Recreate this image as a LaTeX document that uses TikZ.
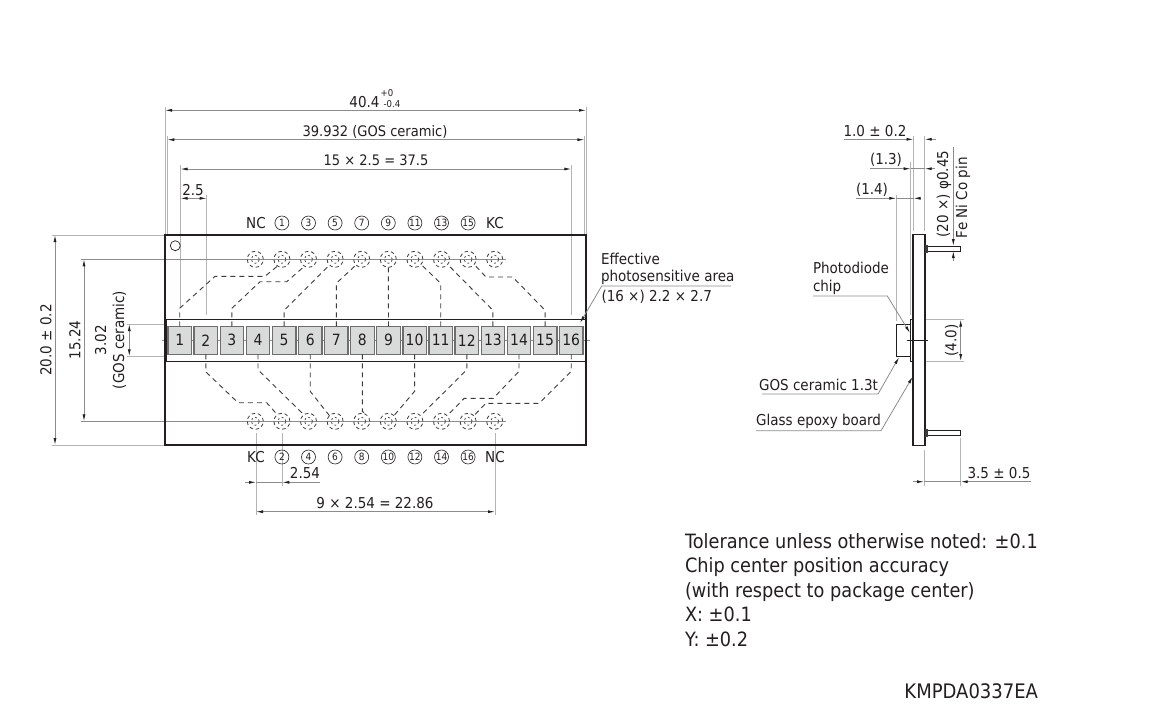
\documentclass[tikz,border=0pt]{standalone}
\usepackage{fontspec}
\setmainfont[FakeStretch=0.9]{DejaVu Sans}
\usetikzlibrary{arrows.meta}
\definecolor{ink}{HTML}{231F20}
\definecolor{dimc}{HTML}{8C8C8C}
\definecolor{extc}{HTML}{B4B4B4}
\definecolor{cellf}{HTML}{D9DADA}
\definecolor{celld}{HTML}{6E6E6E}
\definecolor{wirec}{HTML}{3C3C3C}
\tikzset{
 every node/.style={text=ink,inner sep=0pt,outer sep=0pt},
 lab/.style={font=\fontsize{15}{18}\selectfont},
 labn/.style={font=\fontsize{14.5}{18}\selectfont},
 big/.style={font=\fontsize{19.7}{24.5}\selectfont,align=left,anchor=north west},
 num/.style={circle,draw=ink,line width=.6pt,minimum size=14pt,font=\fontsize{10}{10}\selectfont},
 cellbox/.style={draw=celld,fill=cellf,line width=1.3pt,minimum width=23.5pt,minimum height=28pt,font=\fontsize{15.5}{15.5}\selectfont},
 pinc/.style={circle,draw=wirec,dash pattern=on 3.5pt off 2.8pt,line width=.8pt,minimum size=16pt},
 pinin/.style={circle,draw=wirec,dash pattern=on 2pt off 2.4pt,line width=.7pt,minimum size=8pt},
 wire/.style={draw=wirec,line width=.9pt,dash pattern=on 5pt off 4pt},
 dimline/.style={draw=dimc,line width=.8pt},
 ext/.style={draw=extc,line width=.9pt},
 center/.style={draw=dimc,line width=.8pt},
 tip/.style={-{Latex[length=7pt,width=3pt,color=ink]}},
 tips/.style={{Latex[length=7pt,width=3pt,color=ink]}-{Latex[length=7pt,width=3pt,color=ink]}},
 body/.style={draw=ink,line width=2pt},
 thin/.style={draw=ink,line width=.9pt},
}
\newcommand{\hdimen}[4]{\coordinate (#1a) at (#2,#4);\coordinate (#1b) at (#3,#4);\draw[dimline,tips] (#1a) -- (#1b);}
\newcommand{\vdimen}[4]{\coordinate (#1a) at (#4,#2);\coordinate (#1b) at (#4,#3);\draw[dimline,tips] (#1a) -- (#1b);}
\newcommand{\extline}[5]{\coordinate (#1a) at (#2,#3);\coordinate (#1b) at (#4,#5);\draw[ext] (#1a) -- (#1b);}
\begin{document}
\begin{tikzpicture}[x=1pt,y=-1pt]
\useasboundingbox (0,0) rectangle (1162,721);
\fill[white] (0,0) rectangle (1162,721);

% extension lines
\extline{ea}{165}{107}{165}{235}
\extline{eb}{586}{107}{586}{235}
\extline{ec}{167.3}{136}{167.3}{235}
\extline{ed}{584.4}{136}{584.4}{235}
\extline{ee}{180.5}{165}{180.5}{308}
\extline{ef}{571.3}{165}{571.3}{315}
\extline{eg}{206.7}{195}{206.7}{315}
\extline{eh}{52}{235}{165}{235}
\extline{ei}{52}{445}{165}{445}
\extline{ej}{127}{324}{166}{324}
\extline{ek}{127}{356.3}{166}{356.3}
\extline{el}{256}{433}{256}{515}
\extline{em}{282.3}{433}{282.3}{486}
\extline{en}{495}{433}{495}{515}

% centre lines
\coordinate (clTa) at (80.7,259.3); \coordinate (clTb) at (506,259.3);
\coordinate (clBa) at (80.7,421.3); \coordinate (clBb) at (506,421.3);
\coordinate (clMa) at (162,340.3); \coordinate (clMb) at (590,340.3);
\draw[center] (clTa) -- (clTb);
\draw[center] (clBa) -- (clBb);
\draw[center] (clMa) -- (clMb);

% package
\node[draw=ink,line width=2pt,minimum width=421pt,minimum height=210pt,anchor=north west] (pkg) at (165,235) {};
\node[circle,draw=ink,line width=.7pt,minimum size=10pt] (mark) at (175.3,245.7) {};
\node[draw=ink,line width=1pt,minimum width=419pt,minimum height=41.5pt,anchor=north west] (cer) at (166,319.5) {};

% cells
\foreach \i in {1,...,16}{
 \pgfmathsetmacro{\cx}{179.7+26.1*(\i-1)}
 \node[cellbox] (c\i) at (\cx,340.3) {\i};
}

% pins
\foreach \i in {0,...,9}{
 \pgfmathsetmacro{\px}{255.3+26.6*\i}
 \node[pinc] (t\i) at (\px,259.3) {};
 \node[pinin] (ti\i) at (\px,259.3) {};
 \node[pinc] (b\i) at (\px,421.3) {};
 \node[pinin] (bi\i) at (\px,421.3) {};
}

% pin labels
\node[lab] (ltnc) at (256,223) {NC};
\node[lab] (ltkc) at (495,223) {KC};
\node[lab] (lbkc) at (256,457) {KC};
\node[lab] (lbnc) at (495,457) {NC};
\foreach \i/\n in {1/1,2/3,3/5,4/7,5/9,6/11,7/13,8/15}{
 \pgfmathsetmacro{\px}{255.3+26.6*\i}
 \node[num] (ln\n) at (\px,223) {\n};
}
\foreach \i/\n in {1/2,2/4,3/6,4/8,5/10,6/12,7/14,8/16}{
 \pgfmathsetmacro{\px}{255.3+26.6*\i}
 \node[num] (ln\n) at (\px,457) {\n};
}

% wires top
\draw[wire] (c1.north) -- ++(0,-18) -- (215,276.3) -- (265,276.3) -- (t1.237);
\draw[wire] (c3.north) -- ++(0,-18) -- (260,281.7) -- (286.7,281.7) -- (t2.240);
\draw[wire] (c5.north) -- ++(0,-16) -- (t3.225);
\draw[wire] (c7.north) -- ++(0,-43) -- (t4.225);
\draw[wire] (c9.north) -- (t5.south);
\draw[wire] (c11.north) -- ++(0,-43) -- (t6.320);
\draw[wire] (c13.north) -- ++(0,-16) -- (t7.320);
\draw[wire] (c15.north) -- ++(0,-16) -- (512.7,277) -- (486,277) -- (t8.320);
% wires bottom
\draw[wire] (c2.south) -- ++(0,17.5) -- (238,402.7) -- (266.7,402.7) -- (b1.125);
\draw[wire] (c4.south) -- ++(0,15.5) -- (b2.125);
\draw[wire] (c6.south) -- ++(0,37) -- (b3.135);
\draw[wire] (c8.south) -- ++(0,57) -- (b4.60);
\draw[wire] (c10.south) -- ++(0,37) -- (b5.45);
\draw[wire] (c12.south) -- ++(0,15.5) -- (b6.45);
\draw[wire] (c14.south) -- ++(0,17) -- (493.3,398.3) -- (464.3,398.3) -- (b7.45);
\draw[wire] (c16.south) -- ++(0,17) -- (539.3,403.3) -- (486,403.3) -- (b8.45);

% horizontal dimensions
\hdimen{da}{165}{586}{110.3}
\hdimen{db}{167.3}{584.4}{139.7}
\hdimen{dc}{180.5}{571.3}{169}
\hdimen{dd}{180.5}{206.7}{198.3}
\hdimen{de}{256}{495}{511.7}
\coordinate (dfa) at (245,482.3); \coordinate (dfb) at (256,482.3);
\coordinate (dfc) at (282.3,482.3); \coordinate (dfd) at (320,482.3);
\draw[dimline,tip] (dfa) -- (dfb);
\draw[dimline,tip] (dfd) -- (dfc);
\draw[dimline] (dfb) -- (dfc);

% vertical dimensions
\vdimen{va}{235}{445}{55}
\vdimen{vb}{259.3}{421.3}{84}
\vdimen{vc}{324}{356.3}{129.3}

% dimension labels
\node[lab] (t404) at (364.5,102) {40.4};
\node[font=\fontsize{9.5}{10}\selectfont] (tp) at (387,93) {+0};
\node[font=\fontsize{9.5}{10}\selectfont] (tm) at (392,104) {-0.4};
\node[labn] (t39) at (375,131.5) {39.932 (GOS ceramic)};
\node[labn] (t15) at (376,160.5) {15 × 2.5 = 37.5};
\node[lab] (t25) at (193,190) {2.5};
\node[lab] (t254) at (305,473) {2.54};
\node[lab] (t9) at (375,503) {9 × 2.54 = 22.86};
\node[lab,rotate=90] (t20) at (46,340) {20.0 ± 0.2};
\node[lab,rotate=90] (t1524) at (75,340) {15.24};
\node[lab,rotate=90] (t302) at (100.7,340) {3.02};
\node[lab,rotate=90] (tgos) at (119.5,340) {(GOS ceramic)};

% effective area
\node[lab,anchor=west] (eff1) at (601,258.5) {Effective};
\node[lab,anchor=west] (eff2) at (601,277.5) {photosensitive area};
\node[lab,anchor=west] (eff3) at (601.5,297) {(16 ×) 2.2 × 2.7};
\coordinate (effa) at (731,286);
\coordinate (effb) at (601.7,286);
\coordinate (effc) at (580,323);
\draw[dimline,tip] (effa) -- (effb) -- (effc);

% side view
\extline{sa}{913.5}{136}{913.5}{231}
\extline{sb}{924.7}{136}{924.7}{231}
\extline{sc}{910.7}{162}{910.7}{315}
\extline{sd}{896.3}{195}{896.3}{321}
\extline{se}{925}{319.3}{964}{319.3}
\extline{sf}{925}{361.3}{964}{361.3}
\extline{sg}{924}{450}{924}{486}
\extline{sh}{960.7}{438}{960.7}{486}
\node[draw=ink,line width=1.8pt,minimum width=11.5pt,minimum height=211pt,anchor=north west] (board) at (913.3,234.5) {};
\node[draw=ink,line width=.8pt,minimum width=3.4pt,minimum height=42pt,anchor=north west] (chip) at (910,319.3) {};
\node[draw=ink,line width=.8pt,minimum width=13.3pt,minimum height=32.3pt,anchor=north west] (gos) at (896.7,324) {};
\node[draw=ink,line width=.7pt,minimum width=33.7pt,minimum height=5pt,anchor=west,fill=white] (pin1) at (927,248.5) {};
\node[draw=ink,line width=.7pt,minimum width=33.7pt,minimum height=5pt,anchor=west,fill=white] (pin2) at (927,432.5) {};
\node[fill=wirec,minimum width=2.5pt,minimum height=8pt,anchor=west] (head1) at (925,248.5) {};
\node[fill=wirec,minimum width=2.5pt,minimum height=8pt,anchor=west] (head2) at (925,432.5) {};
\coordinate (sca) at (906.7,340.3); \coordinate (scb) at (927.7,340.3);
\draw[thin] (sca) -- (scb);

% side dims
\coordinate (p1a) at (844,139.3); \coordinate (p1b) at (913.5,139.3);
\coordinate (p1c) at (924.7,139.3); \coordinate (p1d) at (935.7,139.3);
\draw[dimline,tip] (p1a) -- (p1b); \draw[dimline,tip] (p1d) -- (p1c);
\coordinate (p2a) at (870,168.7); \coordinate (p2b) at (910.7,168.7);
\coordinate (p2c) at (924.7,168.7); \coordinate (p2d) at (935,168.7);
\draw[dimline,tip] (p2a) -- (p2b); \draw[dimline,tip] (p2d) -- (p2c);
\draw[dimline] (p2b) -- (p2c);
\coordinate (p3a) at (856,198.3); \coordinate (p3b) at (896.3,198.3);
\coordinate (p3c) at (913.5,198.3); \coordinate (p3d) at (920.7,198.3);
\draw[dimline,tip] (p3a) -- (p3b); \draw[dimline,tip] (p3d) -- (p3c);
\draw[dimline] (p3b) -- (p3c);
\coordinate (p4a) at (953.3,147); \coordinate (p4b) at (953.3,246);
\coordinate (p4c) at (953.3,251); \coordinate (p4d) at (953.3,261);
\draw[dimline,tip] (p4a) -- (p4b); \draw[dimline,tip] (p4d) -- (p4c);
\vdimen{p5}{319.5}{361}{960.7}
\coordinate (p6a) at (913,481.7); \coordinate (p6b) at (924,481.7);
\coordinate (p6c) at (960.7,481.7); \coordinate (p6d) at (1031,481.7);
\draw[dimline,tip] (p6a) -- (p6b); \draw[dimline,tip] (p6d) -- (p6c);
\draw[dimline] (p6b) -- (p6c);

\node[lab] (s1) at (875,131) {1.0 ± 0.2};
\node[lab] (s2) at (886,160) {(1.3)};
\node[lab] (s3) at (872,190) {(1.4)};
\node[lab,rotate=90] (s4) at (944,194) {(20 ×) φ0.45};
\node[lab,rotate=90,anchor=west] (s5) at (963,238) {Fe Ni Co pin};
\node[lab,rotate=90] (s6) at (951.7,340.3) {(4.0)};
\node[lab] (s7) at (999,473) {3.5 ± 0.5};

% side leaders
\node[lab,anchor=west] (n1) at (813,268) {Photodiode};
\node[lab,anchor=west] (n2) at (813,287) {chip};
\coordinate (l1a) at (813,296); \coordinate (l1b) at (887.3,296); \coordinate (l1c) at (910,333);
\draw[dimline,tip] (l1a) -- (l1b) -- (l1c);
\node[lab,anchor=east] (n3) at (878,385) {GOS ceramic 1.3t};
\coordinate (l2a) at (762,394); \coordinate (l2b) at (878,394); \coordinate (l2c) at (899,357.3);
\draw[dimline,tip] (l2a) -- (l2b) -- (l2c);
\node[lab,anchor=east] (n4) at (881,421.5) {Glass epoxy board};
\coordinate (l3a) at (756,430.7); \coordinate (l3b) at (881,430.7); \coordinate (l3c) at (912.7,376.7);
\draw[dimline,tip] (l3a) -- (l3b) -- (l3c);

% notes
\node[big] (note) at (685,533.5) {Tolerance unless otherwise noted: ±0.1\\Chip center position accuracy\\(with respect to package center)\\X: ±0.1\\Y: ±0.2};
\node[font=\fontsize{20}{22}\selectfont,anchor=east] (code) at (1038,691) {KMPDA0337EA};
\end{tikzpicture}
\end{document}
